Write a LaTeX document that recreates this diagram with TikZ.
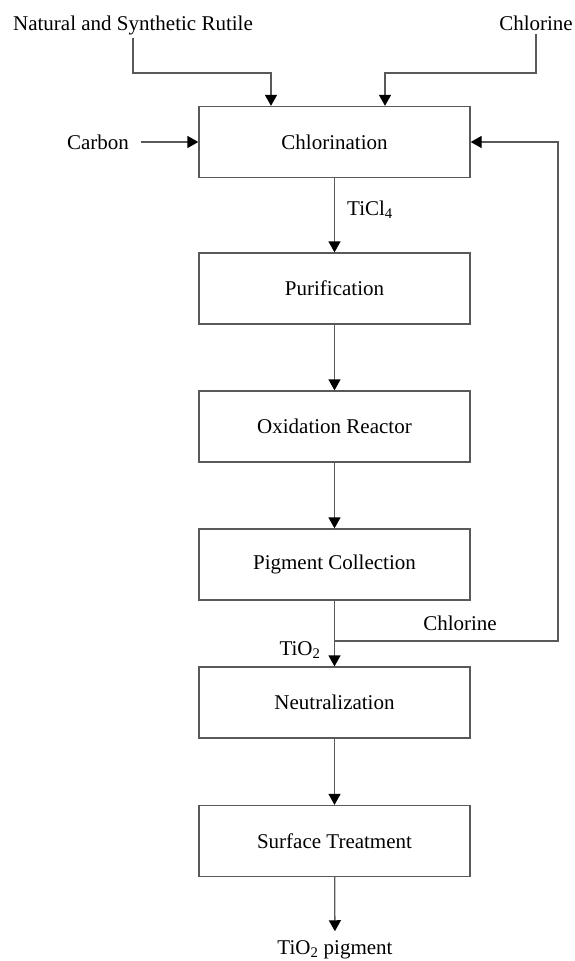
\documentclass[tikz,border=0pt]{standalone}
\usepackage{fontspec}
\setmainfont{Liberation Serif}
\usetikzlibrary{arrows.meta,positioning}

\begin{document}
\begin{tikzpicture}[x=1pt,y=-1pt,font=\fontsize{21}{25}\selectfont]
  \tikzstyle{stage}=[draw=black!65,line width=1.3pt,minimum width=271pt,minimum height=71pt,inner sep=0pt]
  \tikzstyle{flow}=[draw=black!65,line width=1.3pt,-{Triangle[length=11pt,width=12pt,color=black]}]
  \useasboundingbox (0,0) rectangle (575,961);
  % process stages
  \node[stage] (chl) at (334.5,142) {Chlorination};
  \node[stage] (pur) at (334.5,288.5) {Purification};
  \node[stage] (oxi) at (334.5,426.5) {Oxidation Reactor};
  \node[stage] (pig) at (334.5,564.5) {Pigment Collection};
  \node[stage] (neu) at (334.5,702.5) {Neutralization};
  \node[stage] (sur) at (334.5,841) {Surface Treatment};
  % feeds and labels
  \node (rut) at (133,25) {Natural and Synthetic Rutile};
  \node (cl2) at (536,23) {Chlorine};
  \node (carb) at (98,142) {Carbon};
  \node (ticl) at (370,210) {TiCl\textsubscript{4}};
  \node (tio) at (300,650) {TiO\textsubscript{2}};
  \node (clr) at (460,623) {Chlorine};
  \node (prod) at (335,950) {TiO\textsubscript{2} pigment};
  \coordinate (top) at (0,73);
  \coordinate (split) at (334.5,641);
  \coordinate (ret) at (558,641);
  % connectors
  \draw[flow] (rut) -- (rut |- top) -| ([xshift=-63.5pt]chl.north);
  \draw[flow] (cl2) -- (cl2 |- top) -| ([xshift=50.5pt]chl.north);
  \draw[flow,shorten <=9pt] (carb) -- (chl);
  \draw[flow] (chl) -- (pur);
  \draw[flow] (pur) -- (oxi);
  \draw[flow] (oxi) -- (pig);
  \draw[flow] (pig) -- (neu);
  \draw[flow] (neu) -- (sur);
  \draw[flow] (split) -- (ret) |- (chl.east);
  \draw[flow,shorten >=6pt] (sur) -- (prod);
\end{tikzpicture}
\end{document}
